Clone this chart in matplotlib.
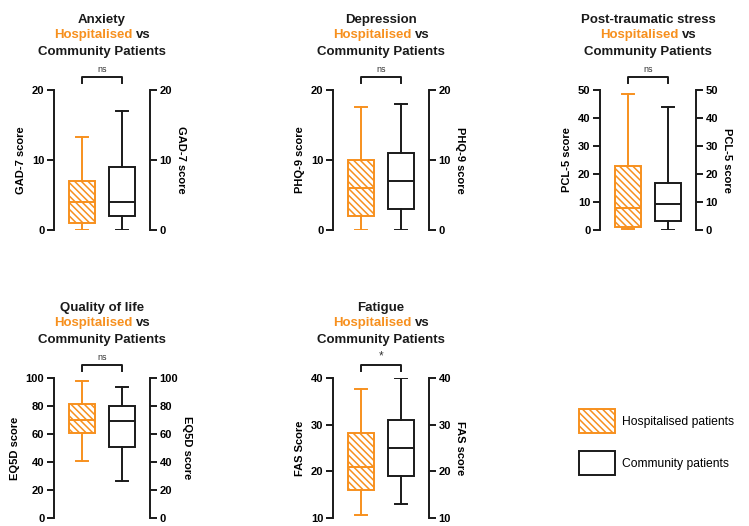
import numpy as np
import matplotlib
matplotlib.use("Agg")
import matplotlib.pyplot as plt
from matplotlib.patches import Patch

plt.rcParams['font.family'] = ['Liberation Sans', 'DejaVu Sans']
plt.rcParams['hatch.linewidth'] = 1.1

ORANGE = '#F7901E'
INK = '#1a1a1a'

titles = ["Anxiety", "Depression", "Post-traumatic stress", "Quality of life", "Fatigue"]
left_labels = ["GAD-7 score", "PHQ-9 score", "PCL-5 score", "EQ5D score", "FAS Score"]
right_labels = ["GAD-7 score", "PHQ-9 score", "PCL-5 score", "EQ5D score", "FAS score"]
signif = ["ns", "ns", "ns", "ns", "*"]
ylims = [(0, 20), (0, 20), (0, 50), (0, 100), (10, 40)]
ysteps = [10, 10, 10, 20, 10]

# whislo, q1, median, q3, whishi
hosp_stats = [
    [0, 1, 4, 7, 13.3],
    [0, 2, 6, 10, 17.6],
    [0.2, 1.2, 8, 23, 48.6],
    [41, 60.7, 69.8, 81.7, 97.6],
    [10.6, 16.1, 20.9, 28.3, 37.6],
]
comm_stats = [
    [0, 2, 4, 9, 17],
    [0, 3, 7, 11, 18],
    [0, 3.3, 9.2, 16.9, 44],
    [26.4, 51, 69.3, 79.8, 93.6],
    [13, 19, 25, 30.9, 40],
]

W, H = 749, 526
fig = plt.figure(figsize=(W / 100, H / 100), dpi=100)

# panel placement in pixels (left, top)
pos_px = [(54, 90), (333, 90), (600, 90), (54, 378), (333, 378)]
aw, ah = 96, 140

renderer = fig.canvas.get_renderer()


def to_stats(s):
    return dict(whislo=s[0], q1=s[1], med=s[2], q3=s[3], whishi=s[4], fliers=[])


for i in range(5):
    lx, ty = pos_px[i]
    ax = fig.add_axes([lx / W, (H - ty - ah) / H, aw / W, ah / H])
    lo, hi = ylims[i]
    ticks = np.arange(lo, hi + 1, ysteps[i])

    bh = ax.bxp([to_stats(hosp_stats[i])], positions=[1], widths=0.67,
                patch_artist=True, showfliers=False, manage_ticks=False,
                boxprops=dict(facecolor='white', edgecolor=ORANGE, linewidth=1.4, hatch='\\\\\\\\\\'),
                medianprops=dict(color=ORANGE, linewidth=1.4),
                whiskerprops=dict(color=ORANGE, linewidth=1.4),
                capprops=dict(color=ORANGE, linewidth=1.4), capwidths=0.3)
    for b in bh['boxes']:
        b.set_edgecolor(ORANGE)
    ax.bxp([to_stats(comm_stats[i])], positions=[2], widths=0.67,
           patch_artist=True, showfliers=False, manage_ticks=False,
           boxprops=dict(facecolor='white', edgecolor=INK, linewidth=1.4),
           medianprops=dict(color=INK, linewidth=1.4),
           whiskerprops=dict(color=INK, linewidth=1.4),
           capprops=dict(color=INK, linewidth=1.4), capwidths=0.3)

    ax.set_xlim(0.3, 2.7)
    ax.set_ylim(lo, hi)
    ax.set_yticks(ticks)
    ax.set_xticks([])
    for sp in ['top', 'bottom', 'right']:
        ax.spines[sp].set_visible(False)
    ax.spines['left'].set_linewidth(1.4)
    ax.spines['left'].set_color(INK)
    ax.tick_params(axis='y', length=5, width=1.4, labelsize=8, color=INK, pad=2)
    for lab in ax.get_yticklabels():
        lab.set_fontweight('bold')
    ax.set_ylabel(left_labels[i], fontsize=8, fontweight='bold', labelpad=4)

    ax2 = ax.twinx()
    ax2.set_ylim(lo, hi)
    ax2.set_yticks(ticks)
    for sp in ['top', 'bottom', 'left']:
        ax2.spines[sp].set_visible(False)
    ax2.spines['right'].set_linewidth(1.4)
    ax2.spines['right'].set_color(INK)
    ax2.tick_params(axis='y', length=5, width=1.4, labelsize=8, color=INK, pad=2)
    for lab in ax2.get_yticklabels():
        lab.set_fontweight('bold')
    ax2.set_ylabel(right_labels[i], fontsize=8, fontweight='bold', rotation=270,
                   labelpad=10)

    # significance bracket
    tr = ax.get_xaxis_transform()
    y_top = 1 + 13 / ah
    y_end = 1 + 7 / ah
    ax.plot([1, 1, 2, 2], [y_end, y_top, y_top, y_end], color=INK,
            linewidth=1.4, transform=tr, clip_on=False)
    ax.text(1.5, 1 + 16 / ah, signif[i], transform=tr, ha='center', va='bottom',
            fontsize=6.5 if signif[i] == 'ns' else 8.5, color='#333333')

    # three-line title, middle line two-coloured
    ax.annotate(titles[i], xy=(0.5, 1), xycoords='axes fraction',
                xytext=(0, 70), textcoords='offset pixels', ha='center', va='center',
                fontsize=9.5, fontweight='bold', color=INK)
    ax.annotate("Community Patients", xy=(0.5, 1), xycoords='axes fraction',
                xytext=(0, 38), textcoords='offset pixels', ha='center', va='center',
                fontsize=9.5, fontweight='bold', color=INK)
    full = ax.annotate("Hospitalised vs", xy=(0.5, 1), xycoords='axes fraction',
                       xytext=(0, 55), textcoords='offset pixels', ha='center',
                       va='center', fontsize=9.5, fontweight='bold', alpha=0)
    bb = full.get_window_extent(renderer)
    cy = (bb.y0 + bb.y1) / 2
    fig.text(bb.x0 / W, cy / H, "Hospitalised", ha='left', va='center',
             fontsize=9.5, fontweight='bold', color=ORANGE)
    fig.text(bb.x1 / W, cy / H, "vs", ha='right', va='center',
             fontsize=9.5, fontweight='bold', color=INK)

handles = [
    Patch(facecolor='white', edgecolor=ORANGE, hatch='\\\\\\\\\\', linewidth=1.4,
          label='Hospitalised patients'),
    Patch(facecolor='white', edgecolor=INK, linewidth=1.4,
          label='Community patients'),
]
fig.legend(handles=handles, loc='upper left', bbox_to_anchor=(568 / W, 1 - 398 / H),
           frameon=False, fontsize=8.7, handlelength=3.0, handleheight=2.7,
           labelspacing=1.5, handletextpad=0.6)

fig.savefig('out.png', dpi=100)
